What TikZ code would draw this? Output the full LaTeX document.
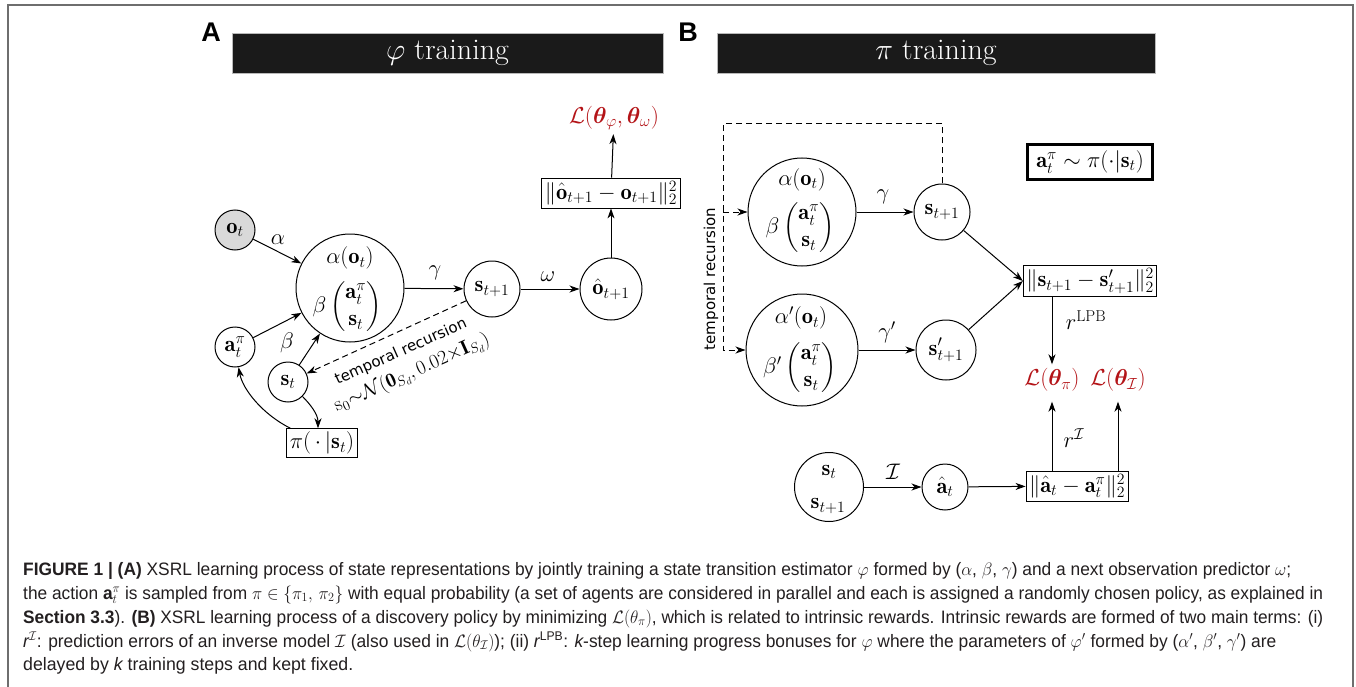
\RequirePackage{fix-cm}
\documentclass[tikz,border=0pt]{standalone}
\usepackage{amsmath,bm}
\usepackage{graphicx}
\usepackage{fontspec}
\newfontfamily\capfont{Liberation Sans}
\newfontfamily\dvsans{DejaVu Sans}
\usetikzlibrary{arrows.meta,calc}
\definecolor{lossred}{RGB}{180,20,24}
\definecolor{framegray}{RGB}{110,110,110}
\definecolor{barblack}{RGB}{26,26,26}
\definecolor{otfill}{RGB}{217,217,217}
\definecolor{captext}{RGB}{35,31,32}
\tikzset{
  circ/.style={circle, draw, line width=1pt, inner sep=0pt},
  mbox/.style={draw, line width=0.9pt, inner sep=3pt},
  loss/.style={text=lossred, inner sep=4pt, font=\fontsize{23}{27}\selectfont},
  arr/.style={-{Stealth[length=10pt,width=7pt,inset=3pt]}, line width=1pt},
  dsh/.style={dash pattern=on 6pt off 4pt},
  titlebar/.style={fill=barblack, draw=gray!55, line width=0.6pt, inner sep=0pt,
     minimum height=40pt, text=white, font=\fontsize{30}{34}\selectfont},
  plab/.style={font=\capfont\bfseries\fontsize{27}{30}\selectfont, inner sep=0pt},
  dv/.style={font=\dvsans\fontsize{15}{18}\selectfont, inner sep=1pt},
  capline/.style={anchor=base west, inner sep=0pt, text=captext,
     font=\capfont\fontsize{18}{22}\selectfont},
}
\begin{document}
\begin{tikzpicture}[x=1pt, y=-1pt, font=\fontsize{22.5}{27}\selectfont]
\useasboundingbox (0,0) rectangle (1356,687);
\fill[white] (0,0) rectangle (1356,687);
\draw[framegray, line width=1.3pt] (8,687) -- (8,5) -- (1353,5) -- (1353,687);

% headers
\node[plab] (labA) at (211,32) {A};
\node[titlebar, minimum width=431pt] (barA) at (447.5,53) {$\varphi$ training};
\node[plab] (labB) at (688,32) {B};
\node[titlebar, minimum width=438pt] (barB) at (936,53) {$\pi$ training};

% ---------------- Panel A
\node[circ, fill=otfill, minimum size=40pt] (ot) at (235,230) {$\mathbf{o}_t$};
\node[circ, minimum size=108pt] (bigA) at (350,288) {};
\node (bigAa) at (350,258) {$\alpha(\mathbf{o}_t)$};
\node (bigAb) at (347,307) {$\beta\begin{pmatrix}\mathbf{a}^{\pi}_t\\ \mathbf{s}_t\end{pmatrix}$};
\node[circ, minimum size=56pt] (sA) at (492,289) {$\mathbf{s}_{t+1}$};
\node[circ, minimum size=62pt] (oh) at (611,289) {$\hat{\mathbf{o}}_{t+1}$};
\node[mbox] (boxO) at (611,193) {$\|\hat{\mathbf{o}}_{t+1}-\mathbf{o}_{t+1}\|_2^2$};
\node[loss] (LA) at (614,118) {$\mathcal{L}(\bm{\theta}_{\varphi},\bm{\theta}_{\omega})$};
\node[circ, minimum size=40pt] (atA) at (235,347) {$\mathbf{a}^{\pi}_t$};
\node[circ, minimum size=40pt] (stA) at (288,382) {$\mathbf{s}_t$};
\node[mbox] (piA) at (322,443) {$\pi(\,\cdot\,|\mathbf{s}_t)$};

\draw[arr] (ot) -- (bigA);
\node (lalpha) at (278,240) {$\alpha$};
\draw[arr] (bigA) -- (sA);
\node (lgamma) at (435,273) {$\gamma$};
\draw[arr] (sA) -- (oh);
\node (lomega) at (548,277) {$\omega$};
\draw[arr] (oh) -- (boxO);
\draw[arr] (boxO) -- (LA);
\draw[arr] (atA) -- (bigA);
\draw[arr] (stA) -- (bigA);
\node (lbeta) at (287,343) {$\beta$};
\draw[arr, dsh] (sA) -- (stA);
\node[dv, rotate=24] (trA) at (401,352) {temporal recursion};
\node[rotate=24, inner sep=1pt, font=\fontsize{20}{24}\selectfont] (s0) at (412,373)
   {$\mathrm{s}_0{\sim}\mathcal{N}(\mathbf{0}_{S_d},0.02{\times}\mathbf{I}_{S_d})$};
\draw[arr] (stA.-45) .. controls +(8,8) and +(0,-14) .. ($(piA.north)+(-4,0)$);
\draw[arr] ($(piA.north west)+(4,0)$) .. controls +(-28,-14) and +(4,22) .. (atA.-80);

% ---------------- Panel B
\node[circ, minimum size=108pt] (big1) at (802,212) {};
\node (big1a) at (802,180) {$\alpha(\mathbf{o}_t)$};
\node (big1b) at (800,228) {$\beta\begin{pmatrix}\mathbf{a}^{\pi}_t\\ \mathbf{s}_t\end{pmatrix}$};
\node[circ, minimum size=56pt] (sB1) at (942,212) {$\mathbf{s}_{t+1}$};
\node[circ, minimum size=112pt] (big2) at (802,350) {};
\node (big2a) at (801,318) {$\alpha'(\mathbf{o}_t)$};
\node (big2b) at (800,368) {$\beta'\begin{pmatrix}\mathbf{a}^{\pi}_t\\ \mathbf{s}_t\end{pmatrix}$};
\node[circ, minimum size=60pt] (sB2) at (946,350) {$\mathbf{s}'_{t+1}$};
\node[mbox] (boxS) at (1090,281) {$\|\mathbf{s}_{t+1}-\mathbf{s}'_{t+1}\|_2^2$};
\node[draw, line width=2.6pt, inner xsep=9pt, inner ysep=6pt] (piB) at (1090,162) {$\mathbf{a}^{\pi}_t\sim\pi(\cdot|\mathbf{s}_t)$};
\node[loss] (Lpi) at (1052,380) {$\mathcal{L}(\bm{\theta}_{\pi})$};
\node[loss] (LI) at (1118,380) {$\mathcal{L}(\bm{\theta}_{\mathcal{I}})$};
\node[circ, minimum size=69pt] (sB3) at (829,487) {};
\node (sB3a) at (829,472) {$\mathbf{s}_t$};
\node (sB3b) at (828,506) {$\mathbf{s}_{t+1}$};
\node[circ, minimum size=46pt] (ah) at (945,487) {$\hat{\mathbf{a}}_t$};
\node[mbox] (boxA) at (1077,486) {$\|\hat{\mathbf{a}}_t-\mathbf{a}^{\pi}_t\|_2^2$};

\draw[arr] (big1) -- (sB1);
\node (lgam1) at (883,197) {$\gamma$};
\draw[arr] (big2) -- (sB2);
\node (lgam2) at (887,332) {$\gamma'$};
\draw[arr] (sB1) -- (boxS.west);
\draw[arr] (sB2) -- (boxS.west);
\draw[arr] (boxS.south -| Lpi) -- (Lpi.north);
\node (rlpb) at (1086,320) {$r^{\mathrm{LPB}}$};
\draw[arr] (boxA.north -| Lpi) -- ([yshift=-6pt]Lpi.south);
\draw[arr] (boxA.north -| LI) -- ([yshift=-6pt]LI.south);
\node (rI) at (1074,438) {$r^{\mathcal{I}}$};
\draw[arr] (sB3) -- (ah);
\node (lI) at (893,472) {$\mathcal{I}$};
\draw[arr] (ah) -- (boxA);

\coordinate (cTop) at (723,124);
\draw[arr, dsh] (sB1.north) |- (cTop) |- (big2.west);
\draw[arr, dsh] (cTop |- big1.west) -- (big1.west);
\node[dv, rotate=90] (trB) at (711,279) {temporal recursion};

% ---------------- Caption
\node[capline] (cap1) at (23,575) {\resizebox{1268pt}{\height}{\textbf{FIGURE 1 | (A)} XSRL learning process of state representations by jointly training a state transition estimator $\varphi$ formed by ($\alpha$, $\beta$, $\gamma$) and a next observation predictor $\omega$;}};
\node[capline] (cap2) at (23,599) {\resizebox{1300pt}{\height}{the action {\bfseries a}$^{\pi}_{t}$ is sampled from $\pi\in\{\pi_1,\,\pi_2\}$ with equal probability (a set of agents are considered in parallel and each is assigned a randomly chosen policy, as explained in}};
\node[capline] (cap3) at (23,623) {\resizebox{1300pt}{\height}{\textbf{Section 3.3}). \textbf{(B)} XSRL learning process of a discovery policy by minimizing $\mathcal{L}(\theta_{\pi})$, which is related to intrinsic rewards. Intrinsic rewards are formed of two main terms: (i)}};
\node[capline] (cap4) at (23,647) {\resizebox{1253pt}{\height}{{\itshape r}$^{\mathcal{I}}$: prediction errors of an inverse model $\mathcal{I}$ (also used in $\mathcal{L}(\theta_{\mathcal{I}})$); (ii) {\itshape r}$^{\text{LPB}}$: {\itshape k}-step learning progress bonuses for $\varphi$ where the parameters of $\varphi'$ formed by ($\alpha'$, $\beta'$, $\gamma'$) are}};
\node[capline] (cap5) at (23,670) {\resizebox{330pt}{\height}{delayed by {\itshape k} training steps and kept fixed.}};
\end{tikzpicture}
\end{document}
